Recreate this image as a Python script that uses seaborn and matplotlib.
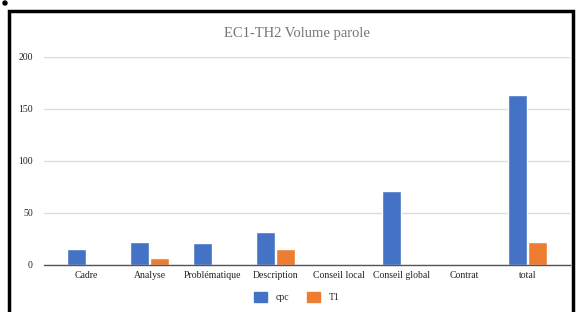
import matplotlib
matplotlib.use("Agg")
import matplotlib.pyplot as plt
from matplotlib.patches import Rectangle, Ellipse
import seaborn as sns
import pandas as pd

# Données
categories = ["Cadre", "Analyse", "Problématique", "Description",
              "Conseil local", "Conseil global", "Contrat", "total"]
cpc = [15, 22, 21, 32, 0, 71, 0, 163]
t1 = [0, 7, 0, 15, 0, 0, 0, 22]
series = ["cpc", "T1"]
colors = ["#4472C4", "#ED7D31"]

df = pd.DataFrame({
    "categorie": categories * 2,
    "serie": ["cpc"] * len(categories) + ["T1"] * len(categories),
    "valeur": cpc + t1,
})

sns.set_style("white")
plt.rcParams["font.family"] = ["Liberation Serif", "DejaVu Serif"]

fig = plt.figure(figsize=(5.76, 3.12), dpi=100)
ax = fig.add_axes([44 / 576, 1 - 265 / 312, 526 / 576, 208 / 312])

sns.barplot(data=df, x="categorie", y="valeur", hue="serie", order=categories,
            hue_order=series, palette=colors, width=0.63, gap=0.07,
            saturation=1, ax=ax, legend=False)

ax.set_ylim(0, 200)
ax.set_xlim(-0.675, 7.675)
ax.set_yticks([0, 50, 100, 150, 200])
ax.yaxis.grid(True, color="#dcdcdc", linewidth=1)
ax.set_axisbelow(True)
for s in ["top", "right", "left"]:
    ax.spines[s].set_visible(False)
ax.spines["bottom"].set_color("#555555")
ax.spines["bottom"].set_linewidth(1)
ax.tick_params(axis="both", length=0, labelsize=7, colors="#222222", pad=4)
ax.tick_params(axis="y", pad=8)
ax.set_xlabel(None)
ax.set_ylabel(None)

fig.text(297 / 576, 1 - 33 / 312, "EC1-TH2 Volume parole", ha="center", va="center",
         fontsize=10.5, color="#757575")

# Légende en bas
handles = [Rectangle((0, 0), 1, 1, color=c) for c in colors]
fig.legend(handles, series, loc="center", bbox_to_anchor=(297 / 576, 1 - 297 / 312),
           ncol=2, frameon=False, fontsize=7, handlelength=1.3, handleheight=1.3,
           columnspacing=1.85, handletextpad=0.9, borderpad=0, borderaxespad=0)

# Cadre noir de la capture
fig.patches.append(Rectangle((8.5 / 576, -0.05), 564 / 576, 1 - 11 / 312 + 0.05,
                             transform=fig.transFigure, fill=False,
                             edgecolor="black", linewidth=2.5))
fig.patches.append(Ellipse((5 / 576, 1 - 3 / 312), 4 / 576, 4 / 312,
                           transform=fig.transFigure, color="black"))

plt.savefig("out.png", dpi=100)
